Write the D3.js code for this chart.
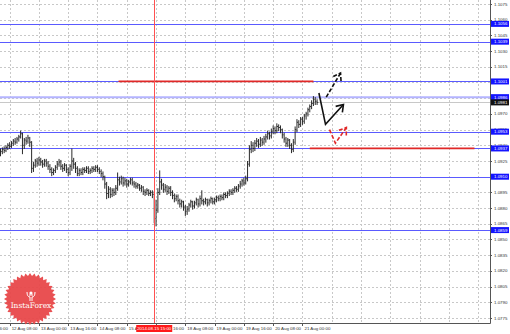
<!DOCTYPE html>
<html>
<head>
<meta charset="utf-8">
<script src="https://cdn.jsdelivr.net/npm/d3@7/dist/d3.min.js"></script>
<style>
  body { margin: 0; background: #fff; }
  svg { display: block; font-family: "Liberation Sans", Arial, sans-serif; }
</style>
</head>
<body>
<div id="chart"></div>
<script>
// hourly bars, first bar = 12 Aug 03:00, last = 21 Aug 08:00
const highs = [
  1.0937,1.0938,1.0939,1.0940,1.0942,1.0943,1.0944,1.0946,1.0947,1.0948,1.0950,1.0954,
  1.0952,1.0947,1.0948,1.0950,1.0948,1.0944,1.0924,1.0927,1.0928,1.0929,1.0928,1.0926,
  1.0927,1.0927,1.0925,1.0922,1.0919,1.0918,1.0921,1.0925,1.0927,1.0926,1.0922,1.0923,
  1.0922,1.0919,1.0922,1.0937,1.0928,1.0924,1.0920,1.0918,1.0918,1.0919,1.0919,1.0920,
  1.0920,1.0918,1.0920,1.0920,1.0921,1.0921,1.0919,1.0917,1.0915,1.0911,1.0905,1.0901,
  1.0900,1.0899,1.0899,1.0902,1.0914,1.0910,1.0911,1.0910,1.0909,1.0908,1.0907,1.0909,
  1.0909,1.0906,1.0905,1.0904,1.0903,1.0902,1.0901,1.0898,1.0899,1.0898,1.0897,1.0897,
  1.0896,1.0888,1.0899,1.0916,1.0908,1.0904,1.0903,1.0902,1.0901,1.0901,1.0897,1.0894,
  1.0893,1.0893,1.0889,1.0888,1.0887,1.0883,1.0882,1.0885,1.0888,1.0887,1.0887,1.0890,
  1.0889,1.0892,1.0897,1.0889,1.0890,1.0889,1.0889,1.0891,1.0890,1.0890,1.0892,1.0892,
  1.0893,1.0893,1.0895,1.0895,1.0896,1.0898,1.0898,1.0899,1.0901,1.0901,1.0903,1.0906,
  1.0908,1.0909,1.0911,1.0925,1.0940,1.0944,1.0943,1.0945,1.0947,1.0946,1.0948,1.0947,
  1.0949,1.0951,1.0954,1.0953,1.0956,1.0959,1.0958,1.0961,1.0960,1.0959,1.0956,1.0952,
  1.0948,1.0947,1.0946,1.0942,1.0946,1.0958,1.0965,1.0964,1.0967,1.0967,1.0970,1.0972,
  1.0976,1.0979,1.0983,1.0987,1.0986,1.0984
];
const lows = [
  1.0930,1.0932,1.0933,1.0934,1.0936,1.0937,1.0938,1.0940,1.0941,1.0942,1.0944,1.0947,
  1.0932,1.0937,1.0941,1.0942,1.0939,1.0914,1.0915,1.0919,1.0920,1.0921,1.0921,1.0919,
  1.0920,1.0920,1.0917,1.0914,1.0911,1.0912,1.0914,1.0917,1.0920,1.0917,1.0915,1.0916,
  1.0914,1.0911,1.0912,1.0916,1.0918,1.0914,1.0911,1.0911,1.0912,1.0912,1.0914,1.0914,
  1.0913,1.0913,1.0914,1.0915,1.0915,1.0915,1.0913,1.0910,1.0907,1.0899,1.0889,1.0890,
  1.0890,1.0891,1.0892,1.0893,1.0897,1.0902,1.0903,1.0901,1.0902,1.0900,1.0901,1.0903,
  1.0902,1.0900,1.0899,1.0899,1.0897,1.0896,1.0893,1.0892,1.0893,1.0892,1.0892,1.0890,
  1.0866,1.0863,1.0876,1.0893,1.0898,1.0895,1.0896,1.0893,1.0894,1.0892,1.0889,1.0886,
  1.0887,1.0884,1.0881,1.0881,1.0878,1.0873,1.0874,1.0877,1.0881,1.0879,1.0880,1.0883,
  1.0881,1.0882,1.0884,1.0883,1.0884,1.0882,1.0883,1.0885,1.0884,1.0884,1.0886,1.0887,
  1.0887,1.0888,1.0888,1.0890,1.0890,1.0892,1.0893,1.0893,1.0895,1.0896,1.0896,1.0899,
  1.0901,1.0902,1.0903,1.0906,1.0920,1.0933,1.0934,1.0935,1.0939,1.0938,1.0939,1.0940,
  1.0941,1.0943,1.0946,1.0946,1.0947,1.0951,1.0951,1.0952,1.0954,1.0952,1.0947,1.0943,
  1.0939,1.0939,1.0937,1.0933,1.0934,1.0941,1.0953,1.0957,1.0958,1.0960,1.0961,1.0965,
  1.0968,1.0972,1.0975,1.0978,1.0979,1.0979
];
const closes = [
  1.0934,1.0936,1.0935,1.0938,1.0940,1.0939,1.0942,1.0944,1.0943,1.0946,1.0948,1.0951,
  1.0940,1.0945,1.0944,1.0947,1.0943,1.0918,1.0921,1.0925,1.0923,1.0926,1.0924,1.0922,
  1.0925,1.0923,1.0920,1.0917,1.0914,1.0916,1.0919,1.0922,1.0924,1.0920,1.0918,1.0921,
  1.0917,1.0914,1.0920,1.0925,1.0922,1.0918,1.0913,1.0916,1.0914,1.0917,1.0916,1.0918,
  1.0915,1.0916,1.0918,1.0917,1.0919,1.0917,1.0915,1.0913,1.0910,1.0903,1.0894,1.0898,
  1.0893,1.0897,1.0895,1.0899,1.0907,1.0905,1.0908,1.0904,1.0906,1.0903,1.0905,1.0907,
  1.0904,1.0903,1.0901,1.0902,1.0899,1.0900,1.0896,1.0895,1.0897,1.0894,1.0895,1.0893,
  1.0870,1.0878,1.0895,1.0905,1.0902,1.0898,1.0900,1.0896,1.0899,1.0895,1.0892,1.0889,
  1.0891,1.0887,1.0884,1.0886,1.0881,1.0877,1.0879,1.0883,1.0886,1.0882,1.0885,1.0888,
  1.0884,1.0889,1.0887,1.0886,1.0888,1.0885,1.0887,1.0889,1.0886,1.0888,1.0890,1.0889,
  1.0891,1.0890,1.0893,1.0892,1.0894,1.0896,1.0895,1.0897,1.0899,1.0898,1.0901,1.0903,
  1.0906,1.0904,1.0908,1.0922,1.0936,1.0940,1.0937,1.0942,1.0944,1.0941,1.0945,1.0943,
  1.0946,1.0948,1.0951,1.0949,1.0953,1.0956,1.0954,1.0958,1.0957,1.0955,1.0950,1.0946,
  1.0942,1.0945,1.0940,1.0936,1.0943,1.0955,1.0962,1.0960,1.0965,1.0963,1.0968,1.0970,
  1.0974,1.0977,1.0980,1.0984,1.0982,1.0981
];

const priceTicks = ["1.1075","1.1060","1.1045","1.1030","1.1015","1.1000","1.0985","1.0970",
  "1.0955","1.0940","1.0925","1.0910","1.0895","1.0880","1.0865","1.0850","1.0835",
  "1.0820","1.0805","1.0790","1.0775"];

const timeLabels = ["11 Aug 16:00","12 Aug 08:00","13 Aug 00:00","13 Aug 16:00","14 Aug 08:00",
  "15 Aug 00:00","15 Aug 16:00","18 Aug 08:00","19 Aug 00:00","19 Aug 16:00","20 Aug 08:00",
  "21 Aug 00:00"];
const timeLabelBars = [-11, 5, 21, 37, 53, 69, 85, 101, 117, 133, 149, 165];
const gridOnlyBars = [181, 197, 213, 229, 245, 261];

const levels = [1.1056, 1.1039, 1.1001, 1.0953, 1.0937, 1.0910, 1.0859];
const strongLevel = 1.0986;
const lastPrice = 1.0981;

const cursorBar = 84;
const cursorLabel = "2014.08.15 15:00";

// red target lines: [price, fromBar, toBar]
const redLines = [[1.1001, 64.5, 171], [1.0937, 169, 259]];

// forecast arrows as [bar, price] points
const arrowSolid = [[174, 1.0990], [177.6, 1.0960], [187.4, 1.0979]];
const arrowDashedBlack = [[178, 1.0986], [185.8, 1.1009]];
const arrowDashedRed = [[179.8, 1.0955], [183, 1.0942], [189, 1.0957]];

const width = 510, height = 334;
const plotRight = 490, plotBottom = 323;
const barStep = 1.83;
const fontSize = 4.4;

const svg = d3.select("#chart").append("svg")
  .attr("width", width)
  .attr("height", height);

const x = d3.scaleLinear().domain([0, 100]).range([0.5, 0.5 + 100 * barStep]);
const y = d3.scaleLinear().domain([1.0775, 1.1075]).range([318, 4]);

const plot = svg.append("g");

// grid
plot.selectAll("line.hgrid")
  .data(priceTicks)
  .enter().append("line")
  .attr("x1", 0).attr("x2", plotRight)
  .attr("y1", d => Math.round(y(+d)) + 0.5)
  .attr("y2", d => Math.round(y(+d)) + 0.5)
  .attr("stroke", "#c8c8c8")
  .attr("stroke-dasharray", "2,2");

plot.selectAll("line.vgrid")
  .data(timeLabelBars.concat(gridOnlyBars))
  .enter().append("line")
  .attr("x1", d => Math.round(x(d)) + 0.5)
  .attr("x2", d => Math.round(x(d)) + 0.5)
  .attr("y1", 0).attr("y2", plotBottom)
  .attr("stroke", "#c8c8c8")
  .attr("stroke-dasharray", "2,2");

// horizontal levels
plot.selectAll("line.level")
  .data(levels)
  .enter().append("line")
  .attr("x1", 0).attr("x2", plotRight)
  .attr("y1", d => Math.round(y(d)) + 0.5)
  .attr("y2", d => Math.round(y(d)) + 0.5)
  .attr("stroke", "#5a5aff");

plot.append("line")
  .attr("x1", 0).attr("x2", plotRight)
  .attr("y1", y(strongLevel)).attr("y2", y(strongLevel))
  .attr("stroke", "#b4b4ff")
  .attr("stroke-width", 2);

plot.append("line")
  .attr("x1", 0).attr("x2", plotRight)
  .attr("y1", Math.round(y(lastPrice)) + 0.5).attr("y2", Math.round(y(lastPrice)) + 0.5)
  .attr("stroke", "#c8c8c8");

plot.selectAll("line.red")
  .data(redLines)
  .enter().append("line")
  .attr("x1", d => x(d[1])).attr("x2", d => x(d[2]))
  .attr("y1", d => y(d[0])).attr("y2", d => y(d[0]))
  .attr("stroke", "#e02828")
  .attr("stroke-width", 1.8);

// bars
const bars = plot.selectAll("g.bar")
  .data(closes)
  .enter().append("g");

bars.append("line")
  .attr("x1", (d, i) => x(i)).attr("x2", (d, i) => x(i))
  .attr("y1", (d, i) => y(highs[i]))
  .attr("y2", (d, i) => y(lows[i]) + 0.5)
  .attr("stroke", "#2a2a2a");

bars.append("line")
  .attr("x1", (d, i) => x(i)).attr("x2", (d, i) => x(i) + 1.2)
  .attr("y1", d => y(d)).attr("y2", d => y(d))
  .attr("stroke", "#2a2a2a");

// cursor line
plot.append("line")
  .attr("x1", Math.round(x(cursorBar)) + 0.5).attr("x2", Math.round(x(cursorBar)) + 0.5)
  .attr("y1", 0).attr("y2", plotBottom)
  .attr("stroke", "#ff5050");

// arrows
function arrowHead(pts) {
  const [px, py] = [x(pts[pts.length - 2][0]), y(pts[pts.length - 2][1])];
  const [tx, ty] = [x(pts[pts.length - 1][0]), y(pts[pts.length - 1][1])];
  const a = Math.atan2(ty - py, tx - px);
  const len = 8;
  return [
    [tx + len * Math.cos(a + Math.PI - 0.6), ty + len * Math.sin(a + Math.PI - 0.6)],
    [tx, ty],
    [tx + len * Math.cos(a + Math.PI + 0.6), ty + len * Math.sin(a + Math.PI + 0.6)]
  ];
}

const line = d3.line().x(d => x(d[0])).y(d => y(d[1]));
const rawLine = d3.line();

function drawArrow(pts, color, dash) {
  plot.append("path")
    .attr("d", line(pts))
    .attr("fill", "none")
    .attr("stroke", color)
    .attr("stroke-width", 1.6)
    .attr("stroke-dasharray", dash);
  plot.append("path")
    .attr("d", rawLine(arrowHead(pts)))
    .attr("fill", "none")
    .attr("stroke", color)
    .attr("stroke-width", 1.6)
    .attr("stroke-dasharray", dash);
}

drawArrow(arrowSolid, "#111", null);
drawArrow(arrowDashedBlack, "#111", "4,2");
drawArrow(arrowDashedRed, "#e02828", "4,2");

// borders
svg.append("line")
  .attr("x1", plotRight + 0.5).attr("x2", plotRight + 0.5)
  .attr("y1", 0).attr("y2", plotBottom + 0.5)
  .attr("stroke", "#555");
svg.append("line")
  .attr("x1", 0).attr("x2", plotRight + 0.5)
  .attr("y1", plotBottom + 0.5).attr("y2", plotBottom + 0.5)
  .attr("stroke", "#555");

// right axis labels
svg.selectAll("text.ptick")
  .data(priceTicks)
  .enter().append("text")
  .attr("x", plotRight + 4)
  .attr("y", d => y(+d))
  .attr("dy", "0.35em")
  .attr("font-size", fontSize)
  .attr("fill", "#333")
  .text(d => d);

svg.selectAll("line.ptick")
  .data(priceTicks)
  .enter().append("line")
  .attr("x1", plotRight).attr("x2", plotRight + 2)
  .attr("y1", d => Math.round(y(+d)) + 0.5).attr("y2", d => Math.round(y(+d)) + 0.5)
  .attr("stroke", "#555");

const boxes = levels.concat([strongLevel]).map(v => ({ v, fill: "#1414ff" }))
  .concat([{ v: lastPrice, fill: "#111" }]);

const boxG = svg.selectAll("g.box")
  .data(boxes)
  .enter().append("g")
  .attr("transform", d => `translate(${plotRight + 1},${y(d.v)})`);

boxG.append("rect")
  .attr("x", 0).attr("y", -3)
  .attr("width", 18).attr("height", 6)
  .attr("fill", d => d.fill);

boxG.append("text")
  .attr("x", 3).attr("y", 0)
  .attr("dy", "0.35em")
  .attr("font-size", fontSize)
  .attr("fill", "#fff")
  .text(d => d.v.toFixed(4));

// bottom axis labels
svg.selectAll("text.ttick")
  .data(timeLabels)
  .enter().append("text")
  .attr("x", (d, i) => x(timeLabelBars[i]) + 2)
  .attr("y", 330)
  .attr("font-size", fontSize)
  .attr("fill", "#333")
  .text(d => d);

svg.selectAll("line.ttick")
  .data(timeLabelBars)
  .enter().append("line")
  .attr("x1", d => Math.round(x(d)) + 0.5).attr("x2", d => Math.round(x(d)) + 0.5)
  .attr("y1", plotBottom).attr("y2", plotBottom + 3)
  .attr("stroke", "#555");

svg.append("rect")
  .attr("x", x(cursorBar) - 18).attr("y", 325)
  .attr("width", 36).attr("height", 7)
  .attr("fill", "#ff1a1a");
svg.append("text")
  .attr("x", x(cursorBar)).attr("y", 330.2)
  .attr("text-anchor", "middle")
  .attr("font-size", fontSize)
  .attr("fill", "#fff")
  .text(cursorLabel);

// logo
const logo = svg.append("g").attr("transform", "translate(30,299)");
const teeth = 36;
const star = d3.range(teeth * 2).map(k => [
  (k * Math.PI) / teeth,
  k % 2 === 0 ? 26 : 23
]);
logo.append("path")
  .attr("d", d3.lineRadial().curve(d3.curveLinearClosed)(star))
  .attr("fill", "#e8484a")
  .attr("opacity", 0.95);
logo.append("circle")
  .attr("cx", 1).attr("cy", -6).attr("r", 1.6)
  .attr("fill", "#fff");
logo.append("path")
  .attr("d", "M-3,-7 Q-3,-2 0,-2 L0,2 M5,-7 Q5,-2 2,-2 L2,2 M-1,-4 L3,-4")
  .attr("fill", "none")
  .attr("stroke", "#fff")
  .attr("stroke-width", 1);
logo.append("text")
  .attr("x", 1).attr("y", 9)
  .attr("text-anchor", "middle")
  .attr("font-family", "'DejaVu Serif', serif")
  .attr("font-size", 7.5)
  .attr("fill", "#fff")
  .text("InstaForex");
</script>
</body>
</html>
